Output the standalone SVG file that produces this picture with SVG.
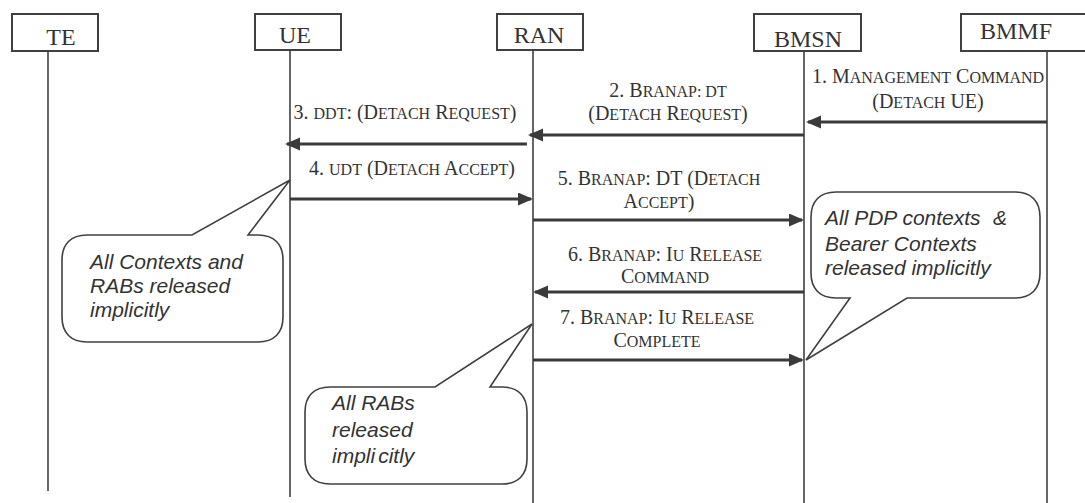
<svg xmlns="http://www.w3.org/2000/svg" width="1085" height="503" viewBox="0 0 1085 503">
<style>
.box{fill:#fff;stroke:#404040;stroke-width:2}
.life{stroke:#404040;stroke-width:1.6;fill:none}
.msg{stroke:#3a3a3a;stroke-width:3.2;fill:none;marker-end:url(#ah)}
.hdr{font-family:"Liberation Serif","Times New Roman",serif;font-size:24px;fill:#333;text-anchor:middle}
.lbl{font-family:"Liberation Serif","Times New Roman",serif;font-size:20px;fill:#333}
.c{text-anchor:middle}
.sc{font-size:16px}
.call{fill:#fff;stroke:#404040;stroke-width:1.6}
.note{font-family:"Liberation Sans",Arial,sans-serif;font-style:italic;font-size:21px;fill:#333}
</style>
<defs>
<marker id="ah" markerUnits="userSpaceOnUse" markerWidth="16" markerHeight="14" refX="13" refY="6.5" orient="auto">
<path d="M0,0 L15,6.5 L0,13 Z" fill="#3a3a3a"/>
</marker>
</defs>
<rect width="1085" height="503" fill="#fff"/>

<g id="TE">
<rect class="box" x="12" y="14" width="86" height="37"/>
<text class="hdr" x="61" y="45">TE</text>
<line class="life" x1="48" y1="51" x2="48" y2="491"/>
</g>
<g id="UE">
<rect class="box" x="255" y="14" width="86" height="36"/>
<text class="hdr" x="295" y="43">UE</text>
<line class="life" x1="290" y1="50" x2="290" y2="497"/>
</g>
<g id="RAN">
<rect class="box" x="497" y="14" width="86" height="36"/>
<text class="hdr" x="539" y="43">RAN</text>
<line class="life" x1="533" y1="50" x2="533" y2="503"/>
</g>
<g id="BMSN">
<rect class="box" x="754" y="14" width="107" height="37"/>
<text class="hdr" x="808" y="47">BMSN</text>
<line class="life" x1="804" y1="51" x2="804" y2="503"/>
</g>
<g id="BMMF">
<rect class="box" x="961" y="14" width="130" height="37"/>
<text class="hdr" x="1016" y="39">BMMF</text>
<line class="life" x1="1047" y1="51" x2="1047" y2="503"/>
</g>

<g id="connectors">
<line class="msg" x1="1047" y1="122" x2="808" y2="122"/>
<line class="msg" x1="804" y1="135" x2="530" y2="135"/>
<line class="msg" x1="527" y1="144" x2="287" y2="144"/>
<line class="msg" x1="290" y1="199" x2="531" y2="199"/>
<line class="msg" x1="533" y1="220" x2="802" y2="220"/>
<line class="msg" x1="804" y1="292" x2="535" y2="292"/>
<line class="msg" x1="533" y1="360" x2="802" y2="360"/>
</g>

<g id="labels">
<text class="lbl c" x="928" y="83">1. M<tspan class="sc">ANAGEMENT</tspan> C<tspan class="sc">OMMAND</tspan></text>
<text class="lbl c" x="928" y="108">(D<tspan class="sc">ETACH</tspan> UE)</text>
<text class="lbl c" x="668" y="97">2. B<tspan class="sc">RANAP: DT</tspan></text>
<text class="lbl c" x="668" y="120">(D<tspan class="sc">ETACH</tspan> R<tspan class="sc">EQUEST</tspan>)</text>
<text class="lbl c" x="405" y="119">3. <tspan class="sc">DDT</tspan>: (D<tspan class="sc">ETACH</tspan> R<tspan class="sc">EQUEST</tspan>)</text>
<text class="lbl c" x="412" y="175">4. <tspan class="sc">UDT</tspan> (D<tspan class="sc">ETACH</tspan> A<tspan class="sc">CCEPT</tspan>)</text>
<text class="lbl c" x="659" y="185">5. B<tspan class="sc">RANAP</tspan>: DT (D<tspan class="sc">ETACH</tspan></text>
<text class="lbl c" x="659" y="208">A<tspan class="sc">CCEPT</tspan>)</text>
<text class="lbl c" x="665" y="261">6. B<tspan class="sc">RANAP</tspan>: I<tspan class="sc">U</tspan> R<tspan class="sc">ELEASE</tspan></text>
<text class="lbl c" x="665" y="283">C<tspan class="sc">OMMAND</tspan></text>
<text class="lbl c" x="657" y="324">7. B<tspan class="sc">RANAP</tspan>: I<tspan class="sc">U</tspan> R<tspan class="sc">ELEASE</tspan></text>
<text class="lbl c" x="657" y="347">C<tspan class="sc">OMPLETE</tspan></text>
</g>

<g id="note-ue">
<path class="call" d="M87,235 L192,235 L290,180 L248,235 L258,235 C274,235 283,244 283,260 L283,317 C283,333 274,342 258,342 L87,342 C71,342 62,333 62,317 L62,260 C62,244 71,235 87,235 Z"/>
<text class="note" x="90" y="269">All Contexts and</text>
<text class="note" x="90" y="293">RABs released</text>
<text class="note" x="90" y="317">implicitly</text>
</g>

<g id="note-bmsn">
<path class="call" d="M836,192 L1015,192 C1031,192 1040,201 1040,217 L1040,273 C1040,289 1031,298 1015,298 L907,298 L806,360 L850,298 L836,298 C820,298 811,289 811,273 L811,217 C811,201 820,192 836,192 Z"/>
<text class="note" x="825" y="225">All PDP contexts</text>
<text class="note" x="993" y="225">&amp;</text>
<text class="note" x="825" y="251">Bearer Contexts</text>
<text class="note" x="825" y="275">released implicitly</text>
</g>

<g id="note-ran">
<path class="call" d="M330,387 L435,387 L532,324 L490,387 L502,387 C518,387 527,396 527,412 L527,459 C527,475 518,484 502,484 L330,484 C314,484 305,475 305,459 L305,412 C305,396 314,387 330,387 Z"/>
<text class="note" x="332" y="410">All RABs</text>
<text class="note" x="332" y="437">released</text>
<text class="note" x="332" y="463">impli<tspan dx="3">citly</tspan></text>
</g>
</svg>
